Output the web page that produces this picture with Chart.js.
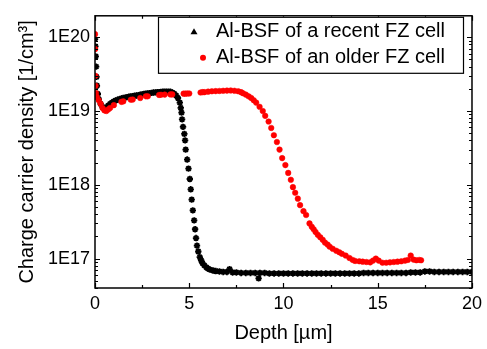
<!DOCTYPE html>
<html>
<head>
<meta charset="utf-8">
<script src="https://cdn.jsdelivr.net/npm/chart.js@4/dist/chart.umd.min.js"></script>
<style>
  html, body { margin: 0; padding: 0; background: #fff; }
  canvas { display: block; }
</style>
</head>
<body>
<canvas id="profileChart" width="487" height="349"></canvas>
<script>
// Al-BSF carrier profiles (ECV)
const seriesNames = ["Al-BSF of a recent FZ cell", "Al-BSF of an older FZ cell"];

const depthRecent = [
  0.00, 0.02, 0.04, 0.06, 0.08, 0.10, 0.15, 0.20, 0.30, 0.40, 0.50, 0.60, 0.70, 0.80, 0.90, 1.00,
  1.10, 1.20, 1.30, 1.40, 1.50, 1.60, 1.70, 1.80, 1.90, 2.00, 2.10, 2.20, 2.30, 2.40, 2.50, 2.60,
  2.70, 2.80, 2.90, 3.00, 3.10, 3.20, 3.30, 3.40, 3.50, 3.60, 3.70, 3.80, 3.90, 4.00, 4.10, 4.20,
  4.30, 4.40, 4.50, 4.55, 4.59, 4.62, 4.67, 4.74, 4.78, 4.81, 4.89, 4.96, 5.03, 5.08, 5.13, 5.19,
  5.26, 5.31, 5.36, 5.41, 5.48, 5.56, 5.63, 5.70, 5.80, 5.91, 6.00, 6.10, 6.26, 6.40, 6.60, 6.80,
  7.00, 7.14, 7.30, 7.50, 7.75, 8.00, 8.25, 8.50, 8.68, 8.75, 9.00, 9.25, 9.50, 9.75, 10.00, 10.25,
  10.50, 10.75, 11.00, 11.25, 11.50, 11.75, 12.00, 12.25, 12.50, 12.75, 13.00, 13.25, 13.50, 13.75,
  14.00, 14.25, 14.50, 14.75, 15.00, 15.25, 15.50, 15.75, 16.00, 16.25, 16.50, 16.75, 17.00, 17.25,
  17.50, 17.75, 18.00, 18.25, 18.50, 18.75, 19.00, 19.25, 19.50, 19.75, 20.00
];
const densityRecent = [
  9.4e19, 7.5e19, 5.5e19, 4.0e19, 2.9e19, 2.2e19, 1.7e19, 1.45e19, 1.25e19, 1.12e19, 1.1e19, 1.12e19, 1.18e19, 1.25e19, 1.3e19, 1.35e19,
  1.39e19, 1.42e19, 1.45e19, 1.48e19, 1.5e19, 1.52e19, 1.54e19, 1.56e19, 1.58e19, 1.59e19, 1.61e19, 1.62e19, 1.64e19, 1.66e19, 1.68e19, 1.7e19,
  1.72e19, 1.73e19, 1.75e19, 1.76e19, 1.78e19, 1.79e19, 1.8e19, 1.8e19, 1.81e19, 1.82e19, 1.83e19, 1.83e19, 1.83e19, 1.82e19, 1.78e19, 1.72e19,
  1.63e19, 1.5e19, 1.3e19, 1.1e19, 9.5e18, 7.7e18, 6.1e18, 4.9e18, 4.0e18, 3.0e18, 2.2e18, 1.66e18, 1.2e18, 8.7e17, 6.3e17, 4.5e17,
  3.3e17, 2.5e17, 1.9e17, 1.5e17, 1.25e17, 1.05e17, 9.5e16, 8.7e16, 8.1e16, 7.6e16, 7.3e16, 7.1e16, 6.9e16, 6.8e16, 6.7e16, 6.6e16,
  6.6e16, 7.2e16, 6.5e16, 6.5e16, 6.4e16, 6.4e16, 6.4e16, 6.4e16, 5.4e16, 6.4e16, 6.4e16, 6.3e16, 6.3e16, 6.3e16, 6.3e16, 6.3e16,
  6.3e16, 6.3e16, 6.3e16, 6.3e16, 6.3e16, 6.3e16, 6.3e16, 6.3e16, 6.3e16, 6.3e16, 6.3e16, 6.3e16, 6.3e16, 6.3e16,
  6.3e16, 6.4e16, 6.4e16, 6.4e16, 6.4e16, 6.4e16, 6.4e16, 6.4e16, 6.4e16, 6.4e16, 6.4e16, 6.5e16, 6.5e16, 6.5e16,
  6.7e16, 6.7e16, 6.6e16, 6.6e16, 6.6e16, 6.6e16, 6.6e16, 6.6e16, 6.6e16, 6.6e16, 6.6e16
];

const depthOlder = [
  0.00, 0.01, 0.02, 0.03, 0.05, 0.10, 0.20, 0.30, 0.40, 0.50, 0.60, 0.70, 0.80, 1.00, 1.40, 1.50,
  1.90, 2.00, 2.40, 2.70, 2.80, 3.40, 3.50, 3.70, 4.00, 4.10, 4.70, 4.80, 4.90, 5.00, 5.60, 5.70,
  5.80, 6.00, 6.20, 6.40, 6.60, 6.80, 7.00, 7.20, 7.40, 7.60, 7.75, 7.85, 8.00, 8.15, 8.29, 8.42,
  8.55, 8.73, 8.90, 9.03, 9.21, 9.35, 9.49, 9.65, 9.79, 9.93, 10.10, 10.25, 10.39, 10.50, 10.62, 10.76,
  10.88, 11.06, 11.20, 11.38, 11.50, 11.60, 11.70, 11.82, 11.95, 12.08, 12.20, 12.34, 12.45, 12.61, 12.80, 12.96,
  13.10, 13.30, 13.50, 13.67, 13.80, 14.02, 14.20, 14.40, 14.60, 14.75, 14.90, 15.05, 15.25, 15.45, 15.65, 15.85,
  16.05, 16.25, 16.45, 16.60, 16.75, 16.90, 17.05, 17.20, 17.30
];
const densityOlder = [
  1.1e20, 6.9e19, 3.0e19, 2.2e19, 1.75e19, 1.55e19, 1.4e19, 1.25e19, 1.1e19, 1.02e19, 1.0e19, 1.05e19, 1.1e19, 1.2e19, 1.33e19, 1.35e19,
  1.42e19, 1.43e19, 1.5e19, 1.58e19, 1.58e19, 1.65e19, 1.66e19, 1.67e19, 1.68e19, 1.68e19, 1.72e19, 1.72e19, 1.73e19, 1.73e19, 1.78e19, 1.8e19,
  1.8e19, 1.83e19, 1.85e19, 1.86e19, 1.87e19, 1.88e19, 1.89e19, 1.9e19, 1.88e19, 1.85e19, 1.8e19, 1.74e19, 1.67e19, 1.58e19, 1.5e19, 1.4e19,
  1.3e19, 1.14e19, 1.0e19, 8.6e18, 7.2e18, 5.9e18, 4.7e18, 3.8e18, 3.0e18, 2.3e18, 1.85e18, 1.45e18, 1.17e18, 9.3e17, 7.8e17, 6.5e17,
  5.3e17, 4.4e17, 3.9e17, 3.0e17, 2.7e17, 2.5e17, 2.3e17, 2.1e17, 1.95e17, 1.8e17, 1.65e17, 1.55e17, 1.45e17, 1.36e17, 1.28e17, 1.22e17,
  1.16e17, 1.1e17, 1.02e17, 9.6e16, 9.3e16, 9.2e16, 9.1e16, 9.0e16, 8.9e16, 9.4e16, 1.0e17, 9.4e16, 8.8e16, 8.8e16, 8.9e16, 9.0e16,
  9.1e16, 9.2e16, 9.4e16, 9.6e16, 1.1e17, 9.7e16, 9.5e16, 9.6e16, 9.5e16
];

const xTicks = [0, 5, 10, 15, 20];
const yTicks = [1e17, 1e18, 1e19, 1e20];

const FONT = "'Liberation Sans', Arial, sans-serif";

function toPoints(xs, ys) {
  return xs.map((x, i) => ({ x: x, y: ys[i] }));
}

// inward tick marks on all four sides plus the frame
const frameTicks = {
  id: "frameTicks",
  afterDatasetsDraw(chart) {
    const { ctx, chartArea: a, scales: { x, y } } = chart;
    ctx.save();
    ctx.strokeStyle = "#000";
    ctx.lineWidth = 1.2;
    ctx.beginPath();
    for (let v = x.min; v <= x.max; v += 2.5) {
      const px = Math.round(x.getPixelForValue(v)) + 0.5;
      const len = xTicks.includes(v) ? 5 : 3;
      ctx.moveTo(px, a.bottom); ctx.lineTo(px, a.bottom - len);
      ctx.moveTo(px, a.top); ctx.lineTo(px, a.top + len);
    }
    for (let d = 16; d <= 20; d++) {
      for (let m = 1; m <= 9; m++) {
        const v = m * Math.pow(10, d);
        if (v < y.min || v > y.max) continue;
        const py = Math.round(y.getPixelForValue(v)) + 0.5;
        const len = m === 1 ? 5 : 3;
        ctx.moveTo(a.left, py); ctx.lineTo(a.left + len, py);
        ctx.moveTo(a.right, py); ctx.lineTo(a.right - len, py);
      }
    }
    ctx.stroke();
    ctx.lineWidth = 1.5;
    ctx.strokeRect(a.left, a.top, a.right - a.left, a.bottom - a.top);
    ctx.restore();
  }
};

// boxed legend in the upper right corner
const boxLegend = {
  id: "boxLegend",
  afterDraw(chart) {
    const { ctx, chartArea: a } = chart;
    const x0 = a.left + 63, y0 = a.top + 1, w = 305, h = 56;
    ctx.save();
    ctx.fillStyle = "#fff";
    ctx.fillRect(x0, y0, w, h);
    ctx.strokeStyle = "#000";
    ctx.lineWidth = 1.2;
    ctx.strokeRect(x0 + 0.5, y0 + 0.5, w, h);
    ctx.font = "20px " + FONT;
    ctx.textBaseline = "middle";
    ctx.fillStyle = "#000";
    const rows = [y0 + 15, y0 + 41];
    // row 1: black triangle
    ctx.beginPath();
    ctx.moveTo(x0 + 36, rows[0] - 3.5);
    ctx.lineTo(x0 + 39.5, rows[0] + 2.5);
    ctx.lineTo(x0 + 32.5, rows[0] + 2.5);
    ctx.closePath();
    ctx.fill();
    ctx.fillText(seriesNames[0], x0 + 58, rows[0]);
    // row 2: red dot
    ctx.fillStyle = "#ff0000";
    ctx.beginPath();
    ctx.arc(x0 + 45, rows[1], 3, 0, Math.PI * 2);
    ctx.fill();
    ctx.fillStyle = "#000";
    ctx.fillText(seriesNames[1], x0 + 58, rows[1]);
    ctx.restore();
  }
};

const ctx = document.getElementById("profileChart").getContext("2d");

new Chart(ctx, {
  type: "scatter",
  data: {
    datasets: [
      {
        label: seriesNames[0],
        data: toPoints(depthRecent, densityRecent),
        pointStyle: "star",
        pointRadius: 3.2,
        backgroundColor: "#000",
        borderColor: "#000",
        borderWidth: 1.8,
        order: 1
      },
      {
        label: seriesNames[1],
        data: toPoints(depthOlder, densityOlder),
        pointStyle: "circle",
        pointRadius: 2.8,
        backgroundColor: "#ff0000",
        borderColor: "#ff0000",
        borderWidth: 0.5,
        order: 0
      }
    ]
  },
  options: {
    responsive: false,
    maintainAspectRatio: false,
    animation: false,
    layout: { padding: { top: 9, right: 14, bottom: 0, left: 0 } },
    plugins: {
      legend: { display: false },
      tooltip: { enabled: false }
    },
    scales: {
      x: {
        type: "linear",
        min: 0,
        max: 20,
        border: { display: false },
        grid: { display: false, drawTicks: false },
        afterBuildTicks: (scale) => { scale.ticks = xTicks.map(v => ({ value: v })); },
        afterFit: (scale) => { scale.height = 61; },
        ticks: {
          padding: 5,
          color: "#000",
          font: { family: FONT, size: 18 }
        },
        title: {
          display: true,
          text: "Depth [µm]",
          color: "#000",
          font: { family: FONT, size: 20, lineHeight: 1.2 },
          padding: { top: 0, bottom: 4 }
        }
      },
      y: {
        type: "logarithmic",
        min: 4e16,
        max: 1.95e20,
        border: { display: false },
        grid: { display: false, drawTicks: false },
        afterBuildTicks: (scale) => { scale.ticks = yTicks.map(v => ({ value: v })); },
        afterFit: (scale) => { scale.width = 95; },
        ticks: {
          padding: 5,
          color: "#000",
          font: { family: FONT, size: 18 },
          callback: (v) => "1E" + Math.round(Math.log10(v))
        },
        title: {
          display: true,
          text: "Charge carrier density [1/cm³]",
          color: "#000",
          font: { family: FONT, size: 20, lineHeight: 1.2 },
          padding: { top: 15, bottom: 0 }
        }
      }
    }
  },
  plugins: [frameTicks, boxLegend]
});
</script>
</body>
</html>
